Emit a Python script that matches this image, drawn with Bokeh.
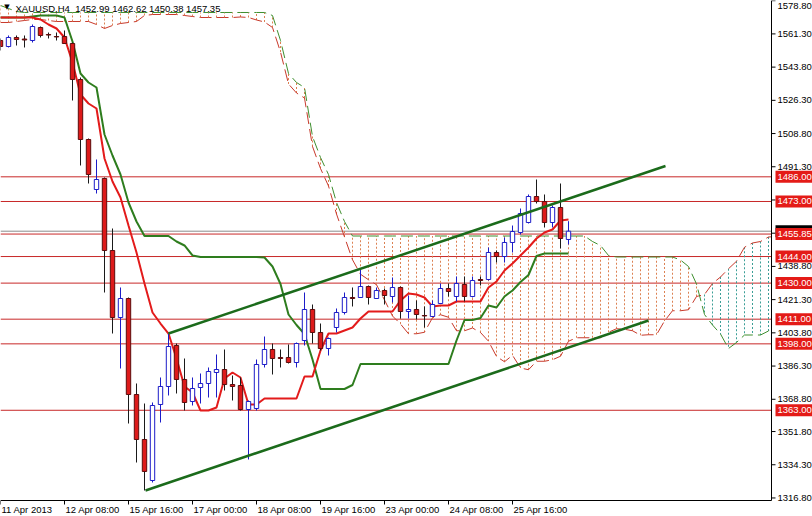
from bokeh.plotting import figure
from bokeh.models import Range1d, Span, ColumnDataSource
from bokeh.core.properties import value
from bokeh.embed import file_html
from bokeh.resources import INLINE

# ---------------- data ----------------
symbol_text = "XAUUSD,H4\u00a0\u00a01452.99 1462.62 1450.38 1457.35"

date_ticks = [0, 8, 16, 24, 32, 40, 48, 56, 64]
date_labels = ["11 Apr 2013", "12 Apr 08:00", "15 Apr 16:00", "17 Apr 00:00", "18 Apr 08:00",
               "19 Apr 16:00", "23 Apr 00:00", "24 Apr 08:00", "25 Apr 16:00"]

price_ticks = [1578.8, 1561.3, 1543.8, 1526.3, 1508.8, 1491.3, 1473.8, 1456.3, 1438.8, 1421.3,
               1403.8, 1386.3, 1368.8, 1351.8, 1334.3, 1316.8]

levels = [1486.00, 1473.00, 1455.85, 1444.00, 1430.00, 1411.00, 1398.00, 1363.00]
bid = 1457.35

open_ = [1557.83, 1554.66, 1559.41, 1558.6, 1557.83, 1564.67, 1560.99, 1559.93, 1559.93, 1556.24,
         1537.28, 1505.66, 1479.32, 1485.12, 1447.18, 1411.88, 1421.89, 1371.31, 1347.61, 1326.0,
         1366.05, 1375.53, 1397.13, 1379.23, 1367.63, 1375.0, 1377.11, 1382.9, 1384.48, 1376.58,
         1376.06, 1363.41, 1363.94, 1387.12, 1395.03, 1390.81, 1390.81, 1388.17, 1399.76, 1416.10,
         1403.98, 1395.55, 1406.62, 1414.52, 1422.42, 1422.42, 1428.21, 1421.89, 1426.11, 1422.95,
         1427.69, 1415.04, 1416.10, 1412.94, 1412.41, 1419.26, 1427.16, 1422.95, 1429.27, 1422.95,
         1431.9, 1431.9, 1446.13, 1444.02, 1451.40, 1456.67, 1461.93, 1475.63, 1472.98, 1461.93,
         1469.84, 1452.99]
high = [1558.88, 1560.46, 1560.46, 1560.46, 1566.26, 1565.20, 1562.04, 1562.04, 1563.09, 1556.77,
        1538.33, 1506.19, 1495.13, 1485.65, 1458.77, 1427.69, 1422.42, 1377.11, 1366.57, 1367.10,
        1380.27, 1403.45, 1398.18, 1390.28, 1380.27, 1382.38, 1385.54, 1392.39, 1395.03, 1381.32,
        1380.27, 1368.15, 1389.75, 1401.87, 1398.18, 1395.03, 1397.66, 1398.71, 1425.05, 1418.73,
        1408.72, 1401.34, 1416.63, 1425.05, 1427.69, 1437.70, 1428.74, 1427.69, 1427.16, 1432.96,
        1428.21, 1423.47, 1420.84, 1417.68, 1420.84, 1429.80, 1429.80, 1433.49, 1433.49, 1433.49,
        1433.49, 1448.76, 1447.18, 1454.03, 1460.35, 1469.31, 1476.69, 1484.59, 1476.69, 1470.89,
        1482.48, 1462.62]
low = [1552.56, 1554.14, 1555.19, 1554.14, 1556.77, 1559.41, 1558.88, 1557.83, 1556.0, 1526.21,
       1491.97, 1482.48, 1477.21, 1425.05, 1403.45, 1385.01, 1356.03, 1335.48, 1320.73, 1324.95,
       1356.56, 1370.79, 1371.84, 1362.88, 1365.52, 1366.57, 1369.73, 1369.73, 1373.42, 1368.15,
       1362.88, 1337.07, 1362.88, 1385.54, 1381.85, 1385.54, 1387.65, 1385.54, 1397.13, 1398.18,
       1394.5, 1391.86, 1403.98, 1413.46, 1417.68, 1422.42, 1418.73, 1421.89, 1418.73, 1419.78,
       1411.36, 1411.36, 1410.83, 1406.62, 1412.41, 1419.26, 1422.95, 1420.31, 1420.31, 1422.42,
       1428.74, 1431.38, 1440.86, 1440.86, 1446.13, 1455.61, 1461.41, 1471.94, 1459.30, 1459.30,
       1448.24, 1450.38]
close = [1554.66, 1559.41, 1558.35, 1558.1, 1565.20, 1560.46, 1560.7, 1559.7, 1556.24, 1537.28,
         1505.66, 1487.22, 1484.59, 1447.18, 1411.88, 1421.89, 1371.31, 1347.61, 1330.76, 1365.52,
         1375.53, 1396.60, 1379.23, 1367.10, 1374.47, 1377.11, 1383.43, 1384.48, 1376.58, 1375.53,
         1363.41, 1367.63, 1387.12, 1395.03, 1390.28, 1390.28, 1388.17, 1398.18, 1416.10, 1403.98,
         1395.55, 1400.82, 1414.52, 1422.42, 1421.89, 1428.21, 1422.42, 1426.11, 1423.47, 1427.69,
         1415.04, 1416.10, 1413.46, 1412.7, 1418.73, 1427.16, 1425.58, 1429.80, 1422.95, 1431.38,
         1431.38, 1446.13, 1444.02, 1451.40, 1457.19, 1466.68, 1475.63, 1472.98, 1461.93, 1469.84,
         1453.50, 1457.35]

tenkan = [1569.94, 1569.94, 1569.94, 1569.94, 1569.94, 1568.89, 1566.26, 1564.15, 1559.41, 1546.23,
          1529.37, 1524.63, 1522.00, 1495.65, 1483.54, 1475.11, 1460.35, 1446.13, 1429.80, 1414.52,
          1408.72, 1403.45, 1390.28, 1375.53, 1372.37, 1362.88, 1362.88, 1364.46, 1379.74, 1382.90,
          1380.27, 1366.04, 1366.04, 1369.21, 1369.21, 1369.21, 1369.21, 1369.21, 1380.80, 1380.80,
          1394.50, 1403.45, 1403.45, 1405.03, 1406.61, 1411.36, 1415.04, 1415.04, 1415.04, 1415.04,
          1420.84, 1424.53, 1424.00, 1422.42, 1417.68, 1418.20, 1418.20, 1420.31, 1420.31, 1420.31,
          1420.31, 1427.69, 1430.85, 1436.65, 1440.33, 1444.55, 1448.76, 1453.50, 1456.67, 1458.25,
          1462.99, 1463.52]
kijun = [1569.94, 1569.94, 1569.94, 1569.94, 1570.47, 1571.00, 1571.00, 1571.00, 1569.94, 1557.30,
         1540.44, 1535.70, 1533.06, 1508.30, 1497.24, 1487.22, 1472.47, 1462.46, 1454.82, 1454.82,
         1454.82, 1454.82, 1451.92, 1449.82, 1444.55, 1443.76, 1443.76, 1443.76, 1443.76, 1443.76,
         1443.76, 1443.76, 1443.76, 1443.49, 1438.75, 1429.53, 1413.46, 1407.93, 1403.19, 1389.75,
         1374.21, 1374.21, 1374.21, 1374.21, 1376.32, 1387.38, 1387.38, 1387.38, 1387.38, 1387.38,
         1387.38, 1387.38, 1387.38, 1387.38, 1387.38, 1387.38, 1387.38, 1399.76, 1410.56, 1410.56,
         1411.62, 1418.20, 1417.15, 1422.95, 1426.11, 1430.59, 1434.27, 1444.28, 1445.60, 1445.60,
         1445.60, 1445.60]

# Senkou spans as displayed (already shifted 26 bars forward), bars 0..97
span_a = [1567.31, 1567.31, 1567.84, 1568.36, 1568.89, 1568.89, 1568.36, 1567.84, 1567.84, 1567.84,
          1567.84, 1567.84, 1566.26, 1564.15, 1565.73, 1566.78, 1567.31, 1567.84, 1571.00, 1571.52,
          1571.52, 1571.52, 1571.52, 1571.00, 1570.47, 1569.94, 1569.94, 1569.94, 1569.94, 1569.94,
          1570.21, 1569.95, 1568.63, 1567.58, 1564.68, 1551.77, 1534.91, 1530.17, 1527.53, 1501.98,
          1490.39, 1481.17, 1466.41, 1454.30, 1442.31, 1434.67, 1431.77, 1429.14, 1421.10, 1412.68,
          1408.46, 1403.32, 1403.32, 1404.11, 1411.75, 1413.33, 1412.02, 1404.90, 1404.90, 1406.35,
          1403.98, 1399.37, 1391.34, 1388.57, 1392.00, 1385.28, 1384.36, 1388.83, 1388.83, 1389.62,
          1391.47, 1399.37, 1401.21, 1401.21, 1401.21, 1401.21, 1404.11, 1405.96, 1405.69, 1404.90,
          1402.53, 1402.79, 1402.79, 1410.04, 1415.44, 1415.44, 1415.97, 1422.95, 1424.00, 1429.80,
          1433.22, 1437.57, 1441.52, 1448.89, 1451.14, 1451.93, 1454.30, 1454.56]
span_b = [1576.27, 1574.69, 1573.10, 1572.58, 1572.58, 1572.58, 1572.58, 1572.58, 1572.58, 1572.58,
          1572.58, 1572.58, 1572.58, 1572.58, 1572.58, 1572.58, 1572.58, 1572.58, 1572.58, 1572.58,
          1572.58, 1572.58, 1572.58, 1572.58, 1572.58, 1572.58, 1572.58, 1572.58, 1572.58, 1572.58,
          1572.58, 1572.58, 1572.58, 1572.58, 1571.00, 1557.83, 1540.44, 1535.70, 1533.06, 1507.25,
          1496.18, 1487.22, 1472.47, 1462.46, 1454.82, 1454.82, 1454.82, 1454.82, 1454.82, 1454.82,
          1454.82, 1454.82, 1454.82, 1454.82, 1454.82, 1454.82, 1454.82, 1454.82, 1454.82, 1454.82,
          1454.82, 1454.82, 1454.82, 1454.82, 1454.82, 1454.82, 1454.82, 1454.82, 1454.82, 1454.82,
          1454.82, 1454.82, 1454.82, 1454.82, 1451.92, 1449.82, 1444.55, 1443.76, 1443.76, 1443.76,
          1443.76, 1443.76, 1443.76, 1443.76, 1443.76, 1442.18, 1438.75, 1429.53, 1413.46, 1407.93,
          1403.19, 1395.55, 1398.71, 1402.66, 1402.66, 1402.66, 1404.77, 1410.83]

# trend lines (bar index, price)
upper_trend_x = [21.0, 83.125]
upper_trend_y = [1403.45, 1491.70]
lower_trend_x = [18.125, 81.0]
lower_trend_y = [1320.73, 1410.30]

# ---------------- layout constants (pixels -> chart coordinates) ----------------
W, H = 812, 516
PXB = 8.0          # pixels per bar
PYP = 1.898        # pixels per price unit
P_TOP = 1578.9     # price at the top edge


def xd(px):
    return px / PXB


def yd(py):
    return P_TOP - py / PYP


AXIS_X = xd(771)   # right price axis
AXIS_Y = yd(500)   # bottom time axis
FONT = value("Liberation Sans")
FS = value("9.5px")

p = figure(width=W, height=H, output_backend="svg", toolbar_location=None,
           x_range=Range1d(0, xd(W)), y_range=Range1d(yd(H), P_TOP),
           x_axis_location=None, y_axis_location=None,
           min_border=0, min_border_left=0, min_border_right=0,
           min_border_top=0, min_border_bottom=0,
           background_fill_color="white", border_fill_color="white")
p.outline_line_color = None
p.grid.visible = False

# horizontal levels (under everything)
for lv in levels:
    p.add_layout(Span(location=lv, dimension="width", line_color="#C82828",
                      line_width=1, level="underlay"))
p.add_layout(Span(location=bid, dimension="width", line_color="#8C8C8C",
                  line_width=1, level="underlay"))

# cloud hatching
cx = list(range(len(span_a)))
ox, oa, ob, tx, ta, tb = [], [], [], [], [], []
for j in cx:
    if span_b[j] >= span_a[j]:
        ox.append(j); oa.append(span_a[j]); ob.append(span_b[j])
    else:
        tx.append(j); ta.append(span_a[j]); tb.append(span_b[j])
p.segment(x0=ox, y0=oa, x1=ox, y1=ob, line_color="#DC8152", line_width=1, line_dash="2 2")
p.segment(x0=tx, y0=ta, x1=tx, y1=tb, line_color="#3A9E96", line_width=1, line_dash="2 2")
p.line(cx, span_a, line_color="#C83A2C", line_width=1, line_dash="12 5")
p.line(cx, span_b, line_color="#3F8F2F", line_width=1, line_dash="12 5")

bars = list(range(len(open_)))
p.line(bars, kijun, line_color="#2E7D1E", line_width=2)
p.line(bars, tenkan, line_color="#E31B1B", line_width=2)

# candles
bull = [i for i in bars if close[i] >= open_[i]]
bear = [i for i in bars if close[i] < open_[i]]
bull_src = ColumnDataSource(dict(x=bull, o=[open_[i] for i in bull], c=[close[i] for i in bull],
                                 h=[high[i] for i in bull], l=[low[i] for i in bull]))
bear_src = ColumnDataSource(dict(x=bear, o=[open_[i] for i in bear], c=[close[i] for i in bear],
                                 h=[high[i] for i in bear], l=[low[i] for i in bear]))
p.segment(x0="x", y0="h", x1="x", y1="l", source=bull_src, line_color="#1C1CC8", line_width=1)
p.segment(x0="x", y0="h", x1="x", y1="l", source=bear_src, line_color="#1A1A1A", line_width=1)
p.vbar(x="x", width=0.55, bottom="o", top="c", source=bull_src,
       fill_color="white", line_color="#1C1CC8", line_width=1)
p.vbar(x="x", width=0.55, bottom="c", top="o", source=bear_src,
       fill_color="#DD1A1A", line_color="#5C0C0C", line_width=1)

# trend lines
p.line(upper_trend_x, upper_trend_y, line_color="#1B6B1B", line_width=2.5)
p.line(lower_trend_x, lower_trend_y, line_color="#1B6B1B", line_width=2.5)

# white margins for the price scale and the time scale
p.quad(left=[AXIS_X], right=[xd(W)], bottom=[yd(H)], top=[P_TOP],
       fill_color="white", line_color=None)
p.quad(left=[0], right=[xd(W)], bottom=[yd(H)], top=[AXIS_Y],
       fill_color="white", line_color=None)

# axis lines and ticks
p.segment(x0=[AXIS_X], y0=[AXIS_Y], x1=[AXIS_X], y1=[P_TOP], line_color="black", line_width=1)
p.segment(x0=[0], y0=[AXIS_Y], x1=[AXIS_X], y1=[AXIS_Y], line_color="black", line_width=1)
p.segment(x0=[AXIS_X] * len(price_ticks), y0=price_ticks,
          x1=[xd(775)] * len(price_ticks), y1=price_ticks, line_color="black", line_width=1)
p.segment(x0=date_ticks, y0=[AXIS_Y] * len(date_ticks), x1=date_ticks,
          y1=[yd(504)] * len(date_ticks), line_color="black", line_width=1)

# price scale labels (the top one is nudged down so that it stays fully visible)
label_y = [max(min(t, yd(5.5)), yd(H - 5.5)) for t in price_ticks]
p.text(x=[xd(777)] * len(price_ticks), y=label_y, text=[f"{t:.2f}" for t in price_ticks],
       text_font=FONT, text_font_size=FS, text_color="black",
       text_baseline="middle", text_align="left")

# current price (black) and level tags (red)
tag_x = xd(793.5)
p.rect(x=[tag_x], y=[bid], width=xd(37), height=12, height_units="screen",
       fill_color="black", line_color=None)
p.text(x=[xd(777)], y=[bid], text=[f"{bid:.2f}"], text_font=FONT, text_font_size=FS,
       text_color="white", text_baseline="middle", text_align="left")
p.rect(x=[tag_x] * len(levels), y=levels, width=xd(37), height=12, height_units="screen",
       fill_color="#E41B17", line_color=None)
p.text(x=[xd(777)] * len(levels), y=levels, text=[f"{lv:.2f}" for lv in levels],
       text_font=FONT, text_font_size=FS, text_color="white",
       text_baseline="middle", text_align="left")

# time scale labels
p.text(x=[t + xd(1) for t in date_ticks], y=[yd(509)] * len(date_ticks), text=date_labels,
       text_font=FONT, text_font_size=FS, text_color="black",
       text_baseline="middle", text_align="left")

# header
p.text(x=[xd(6.5)], y=[yd(6)], text=["\u25bc"], text_font=value("DejaVu Sans"),
       text_font_size=value("7px"), text_color="black",
       text_baseline="middle", text_align="center")
p.text(x=[xd(15)], y=[yd(7.5)], text=[symbol_text], text_font=FONT, text_font_size=FS,
       text_color="black", text_baseline="middle", text_align="left")

open("out.html", "w").write(file_html(p, INLINE))
